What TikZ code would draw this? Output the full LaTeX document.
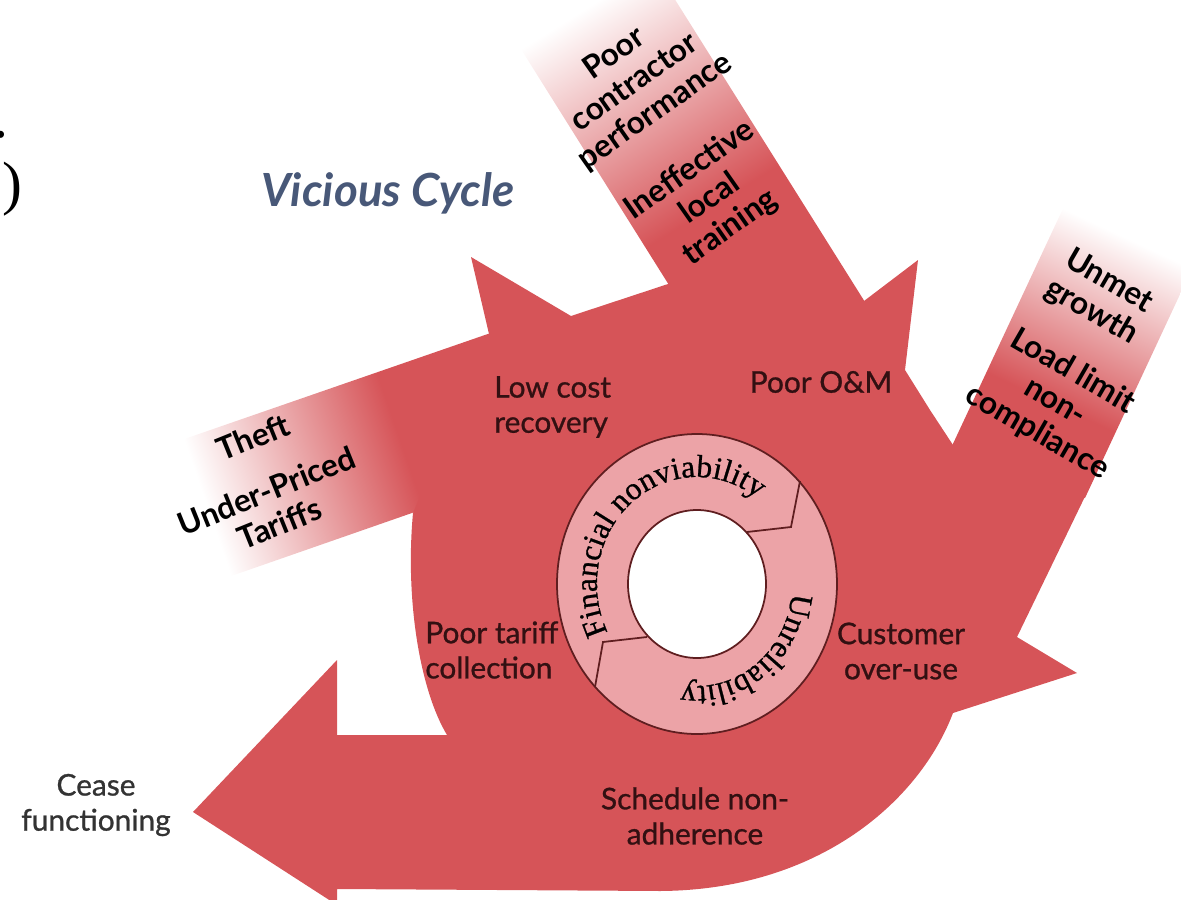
\documentclass[tikz,border=0pt]{standalone}
\usepackage{fontspec}
\setmainfont{Lato}
\newfontfamily\labelfont{Lato}[FakeBold=0.9]
\newfontfamily\ringfont{Liberation Serif}[FakeBold=0.8]
\newfontfamily\parenfont{Liberation Serif}
\usetikzlibrary{decorations.text}

\definecolor{swirl}{RGB}{214,84,88}
\definecolor{ringpink}{RGB}{236,163,167}
\definecolor{ringline}{RGB}{95,30,32}
\definecolor{labeltext}{RGB}{50,16,18}
\definecolor{titleblue}{RGB}{72,88,120}
\pgfdeclareverticalshading{bandfade}{100bp}{color(0bp)=(swirl); color(40bp)=(swirl); color(72bp)=(white); color(100bp)=(white)}

\begin{document}
\begin{tikzpicture}[x=0.02cm,y=0.02cm,
  band/.style={shading=bandfade},
  lbl/.style={text=labeltext,font=\labelfont\fontsize{17}{20}\selectfont,inner sep=0pt},
  bandtxt/.style={font=\bfseries\fontsize{18}{20}\selectfont,align=center,inner sep=0pt},
  ringtxt/.style={decorate,decoration={text along path,text align={fit to path}}}]
\useasboundingbox (0,0) rectangle (1181,-900);

% bands feeding the cycle
\shade[band,shading angle=109] (167,-445) -- (508,-327) -- (432,-506) -- (214,-582) -- cycle;
\shade[band,shading angle=32] (509,-30) -- (642,53) -- (875,-318) -- (679,-301) -- cycle;
\shade[band,shading angle=-25] (1067,-200) -- (1196,-260) -- (1085,-498) -- (944,-463) -- cycle;

% swirl with arrow heads
\fill[swirl] (413,-513) -- (489,-334) -- (471,-257) -- (571,-316) -- (668,-284) -- (864,-301)
  -- (918,-260) -- (905,-370) -- (930,-410) -- (953,-445) -- (1093,-480) -- (1017,-637)
  -- (1077,-673) -- (953,-713) .. controls (920,-800) and (820,-890) .. (660,-891)
  -- (337,-889) -- (337,-905) -- (193,-812) -- (337,-660) -- (337,-735) -- (447,-735)
  .. controls (420,-690) and (405,-600) .. (413,-513) -- cycle;

\node[anchor=base east,inner sep=0pt,font=\parenfont\fontsize{34}{34}\selectfont] (paren) at (23,-203) {)};
\node[anchor=base east,inner sep=0pt,font=\parenfont\fontsize{34}{34}\selectfont] (dot) at (9,-137) {.};

\node[font=\bfseries\itshape\fontsize{26}{30}\selectfont,text=titleblue] (title) at (388,-193) {Vicious Cycle};

\node[bandtxt,rotate=35] (contractor) at (635,-83) {Poor\\contractor\\performance};
\node[bandtxt,rotate=35] (training) at (710,-199) {Ineffective\\local\\training};
\node[bandtxt,rotate=-30] (growth) at (1100,-297) {Unmet\\growth};
\node[bandtxt,rotate=-30] (loadlimit) at (1055,-402) {Load limit\\non-\\compliance};
\node[bandtxt,rotate=22] (theft) at (253,-437) {Theft};
\node[bandtxt,rotate=22] (tariffs) at (273,-507) {Under-Priced\\Tariffs};

\node[lbl,align=left,anchor=west] (lowcost) at (494,-407) {Low cost\\recovery};
\node[lbl,align=center] (poorom) at (821,-382) {Poor O\&M};
\node[lbl,align=left,anchor=west] (tariff) at (425,-650) {Poor tariff\\collection};
\node[lbl,align=center] (overuse) at (901,-651) {Customer\\over-use};
\node[lbl,align=center] (schedule) at (695,-816) {Schedule non-\\adherence};
\node[lbl,align=center,text=black!80] (cease) at (96,-805) {Cease\\functioning};

% ring
\coordinate (C) at (697,-584);
\draw[ringline,line width=1pt,fill=ringpink] (C) ellipse[x radius=140,y radius=150];
\draw[ringline,line width=1pt,fill=white] (C) ellipse[x radius=69,y radius=74];
\draw[ringline,line width=1pt] (800,-481) -- (791,-527) -- (747,-532);
\draw[ringline,line width=1pt] (595,-687) -- (603,-642) -- (647,-637);
\path[ringtxt,decoration={text={|\ringfont\fontsize{18}{18}\selectfont|Financial nonviability}},shift={(697,-584)}]
  (207:100 and 107) arc[start angle=207,end angle=57,x radius=100,y radius=107];
\path[ringtxt,decoration={text={|\ringfont\fontsize{18}{18}\selectfont|Unreliability}},shift={(697,-584)}]
  (-5:95 and 102) arc[start angle=-5,end angle=-96,x radius=95,y radius=102];
\end{tikzpicture}
\end{document}
